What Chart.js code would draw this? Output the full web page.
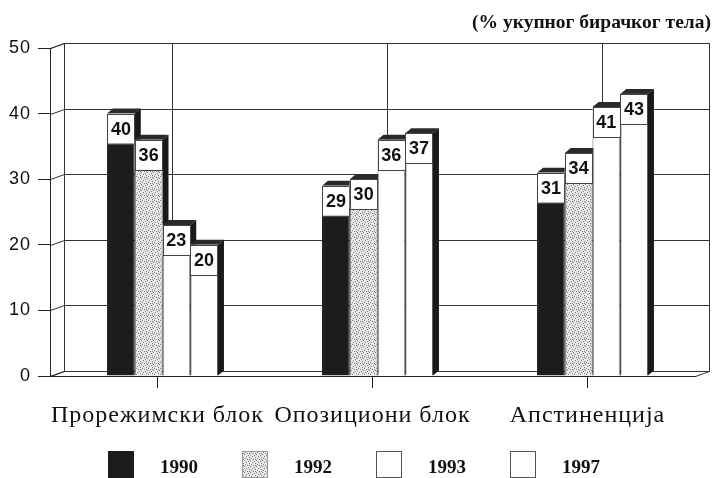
<!DOCTYPE html>
<html>
<head>
<meta charset="utf-8">
<script src="https://cdn.jsdelivr.net/npm/chart.js@4.4.0/dist/chart.umd.min.js"></script>
<style>
  html, body { margin: 0; padding: 0; background: #fff; }
  canvas { display: block; }
</style>
</head>
<body>
<canvas id="chart" width="713" height="478"></canvas>
<script>
// Data
const categories = ["Прорежимски блок", "Опозициони блок", "Апстиненција"];
const years = ["1990", "1992", "1993", "1997"];
const values1990 = [40, 29, 31];
const values1992 = [36, 30, 34];
const values1993 = [23, 36, 41];
const values1997 = [20, 37, 43];
const yTicks = [0, 10, 20, 30, 40, 50];
const unitNote = "(% укупног бирачког тела)";

// 3D look
const WALL_DX = 14, WALL_DY = -5;   // depth of the back wall
const BAR_DX = 6, BAR_DY = -5;      // depth of each bar
const BAR_SHIFT = 5;                // bars sit a bit inside the floor
const LABEL_BOX_H = 30;
const INK = "#1c1c1c";

const canvas = document.getElementById("chart");
const ctx = canvas.getContext("2d");

// stippled grey used by 1992
function makeStipple() {
  const c = document.createElement("canvas");
  c.width = 6; c.height = 6;
  const g = c.getContext("2d");
  g.fillStyle = "#e8e8e8";
  g.fillRect(0, 0, 6, 6);
  g.fillStyle = "#7a7a7a";
  [[0,0],[3,1],[1,3],[4,4],[5,2],[2,5],[3,3]].forEach(([x, y]) => g.fillRect(x, y, 1, 1));
  return ctx.createPattern(c, "repeat");
}
const stipple = makeStipple();

const fills = [INK, stipple, "#ffffff", "#ffffff"];
const borders = [INK, "#9a9a9a", "#555555", "#555555"];
const seriesValues = [values1990, values1992, values1993, values1997];

function poly(c, pts, fill, stroke) {
  c.beginPath();
  c.moveTo(pts[0][0], pts[0][1]);
  for (let i = 1; i < pts.length; i++) c.lineTo(pts[i][0], pts[i][1]);
  c.closePath();
  if (fill) { c.fillStyle = fill; c.fill(); }
  if (stroke) { c.strokeStyle = stroke; c.lineWidth = 1; c.stroke(); }
}

// walls, floor and grid behind the bars
const walls = {
  id: "walls",
  beforeDraw(chart) {
    const { ctx: c, chartArea: a, scales } = chart;
    const y = scales.y, x = scales.x;
    c.letterSpacing = "1px";   // the scan's category labels are a little spaced out
    c.save();
    c.translate(0.5, 0.5);
    const L = a.left, R = a.right, T = a.top, B = a.bottom;
    // back wall
    poly(c, [[L + WALL_DX, T + WALL_DY], [R + WALL_DX, T + WALL_DY], [R + WALL_DX, B + WALL_DY], [L + WALL_DX, B + WALL_DY]], "#fff", "#333");
    // left wall
    poly(c, [[L, T], [L + WALL_DX, T + WALL_DY], [L + WALL_DX, B + WALL_DY], [L, B]], "#fff", "#333");
    // floor
    poly(c, [[L, B], [L + WALL_DX, B + WALL_DY], [R + WALL_DX, B + WALL_DY], [R, B]], "#fff", "#333");
    c.strokeStyle = "#333";
    c.lineWidth = 1;
    // horizontal grid on back + left wall
    yTicks.forEach(v => {
      const py = Math.round(y.getPixelForValue(v));
      c.beginPath();
      c.moveTo(L, py);
      c.lineTo(L + WALL_DX, py + WALL_DY);
      c.lineTo(R + WALL_DX, py + WALL_DY);
      c.stroke();
    });
    // vertical grid at category centres
    categories.forEach((_, i) => {
      const px = Math.round(x.getPixelForValue(i)) + WALL_DX;
      c.beginPath();
      c.moveTo(px, T + WALL_DY);
      c.lineTo(px, B + WALL_DY);
      c.stroke();
    });
    c.restore();
  }
};

// Chart.js paints the last dataset first; here the bars are painted
// left to right so each bar hides the side face of the one before it.
const bars3d = {
  id: "bars3d",
  beforeDatasetDraw() { return false; },
  afterDatasetsDraw(chart) {
    const c = chart.ctx;
    c.save();
    c.letterSpacing = "0px";
    c.translate(BAR_SHIFT, 0);
    chart.data.datasets.forEach((ds, di) => {
      const meta = chart.getDatasetMeta(di);
      meta.data.forEach((bar, i) => {
        const { x, y, base, width } = bar.getProps(["x", "y", "base", "width"], true);
        const l = x - width / 2, r = x + width / 2;
        // top and side faces
        poly(c, [[l, y], [l + BAR_DX, y + BAR_DY], [r + BAR_DX, y + BAR_DY], [r, y]], "#2a2a2a");
        poly(c, [[r, y], [r + BAR_DX, y + BAR_DY], [r + BAR_DX, base + BAR_DY], [r, base]], "#1a1a1a");
        // front face, drawn by the bar element itself
        bar.draw(c);
        // value box
        c.fillStyle = "#fff";
        c.fillRect(l, y, width, LABEL_BOX_H);
        c.strokeStyle = "#444";
        c.lineWidth = 1;
        c.strokeRect(Math.round(l) + 0.5, Math.round(y) + 0.5, Math.round(width) - 1, LABEL_BOX_H);
        c.fillStyle = "#111";
        c.font = "bold 18px 'Liberation Sans', Arial, sans-serif";
        c.textAlign = "center";
        c.textBaseline = "middle";
        c.fillText(String(ds.data[i]), x, y + LABEL_BOX_H / 2 + 1);
      });
    });
    c.restore();
  }
};

// legend and unit note
const extras = {
  id: "extras",
  afterDraw(chart) {
    const c = chart.ctx;
    c.save();
    c.letterSpacing = "0px";
    c.font = "bold 19.5px 'Liberation Serif', 'Times New Roman', serif";
    c.fillStyle = "#111";
    c.textAlign = "right";
    c.textBaseline = "alphabetic";
    c.fillText(unitNote, 711, 28);

    const startX = 108, step = 134, boxY = 451, box = 26;
    c.font = "bold 19px 'Liberation Serif', 'Times New Roman', serif";
    c.textAlign = "left";
    years.forEach((yr, i) => {
      const bx = startX + step * i;
      c.fillStyle = fills[i];
      c.fillRect(bx, boxY, box, box);
      c.strokeStyle = borders[i];
      c.lineWidth = 1;
      c.strokeRect(bx + 0.5, boxY + 0.5, box - 1, box);
      c.fillStyle = "#111";
      c.fillText(yr, bx + 52, 473);
    });
    c.restore();
    c.letterSpacing = "0px";
  }
};

new Chart(canvas, {
  type: "bar",
  data: {
    labels: categories,
    datasets: years.map((yr, i) => ({
      label: yr,
      data: seriesValues[i],
      backgroundColor: fills[i],
      borderColor: borders[i],
      borderWidth: 1,
      categoryPercentage: 0.516,
      barPercentage: 1
    }))
  },
  options: {
    responsive: false,
    animation: false,
    events: [],
    layout: { padding: { top: 48, left: 0, right: 18, bottom: 42 } },
    plugins: { legend: { display: false }, tooltip: { enabled: false } },
    scales: {
      x: {
        afterFit(s) { s.height = 60; },
        grid: { offset: false, drawOnChartArea: false, tickLength: 12, color: "#222" },
        border: { display: true, color: "#222" },
        ticks: {
          color: "#111",
          padding: 13,
          maxRotation: 0,
          font: { family: "'Liberation Serif', 'Times New Roman', serif", size: 24 }
        }
      },
      y: {
        min: 0, max: 50,
        afterFit(s) { s.width = 50; },
        afterBuildTicks(s) { s.ticks = yTicks.map(v => ({ value: v })); },
        grid: { drawOnChartArea: false, tickLength: 12, color: "#222" },
        border: { display: true, color: "#222" },
        ticks: {
          color: "#111",
          padding: 7,
          font: { family: "'Liberation Sans', Arial, sans-serif", size: 18 }
        }
      }
    }
  },
  plugins: [walls, bars3d, extras]
});
</script>
</body>
</html>
